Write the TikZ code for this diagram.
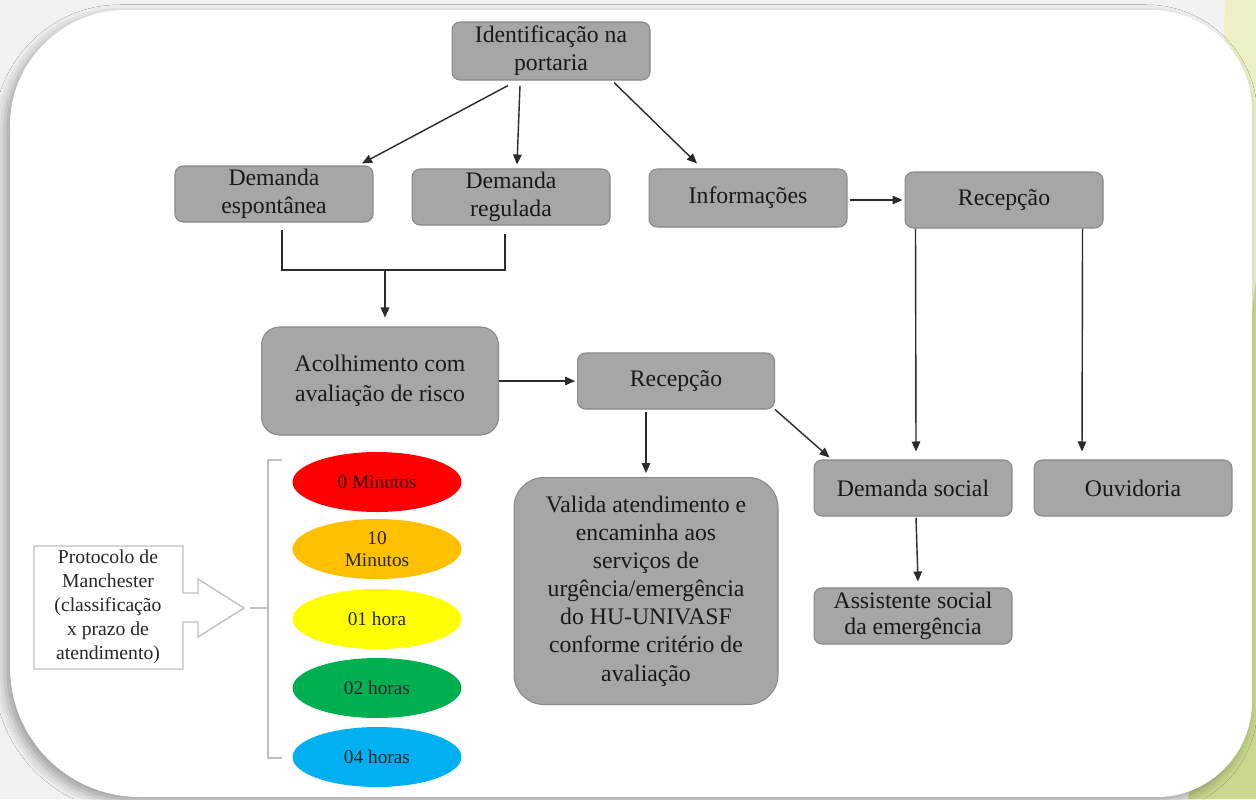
\documentclass[tikz,border=0pt]{standalone}
\usepackage{fontspec}
\setmainfont{Liberation Serif}
\usetikzlibrary{arrows.meta,calc,shadows.blur,shapes.geometric}
\definecolor{bggray}{HTML}{F2F2F2}
\definecolor{paleyel}{HTML}{EDF0C6}
\definecolor{leafgreen}{HTML}{C8D98F}
\definecolor{boxfill}{HTML}{A6A6A6}
\definecolor{boxline}{HTML}{888888}
\definecolor{linecol}{HTML}{2B2B2B}
\definecolor{protoline}{HTML}{C0C0C0}
\definecolor{ered}{HTML}{FF0000}
\definecolor{eorange}{HTML}{FFC000}
\definecolor{eyellow}{HTML}{FFFF00}
\definecolor{egreen}{HTML}{00B050}
\definecolor{eblue}{HTML}{00B0F0}
\begin{document}
\begin{tikzpicture}[x=0.02cm,y=-0.02cm,
  graybox/.style={draw=boxline,line width=0.6pt,fill=boxfill,rounded corners=0.16cm,
    minimum width=3.96cm,minimum height=1.12cm,align=center,inner sep=1pt,
    text=black!90,font=\fontsize{13.5pt}{16pt}\selectfont},
  timeoval/.style={ellipse,draw=none,minimum width=3.38cm,minimum height=1.2cm,
    inner sep=0pt,align=center,text=black!85,font=\fontsize{11pt}{13pt}\selectfont},
  conn/.style={draw=linecol,line width=0.8pt},
  arr/.style={conn,-{Triangle[length=0.2cm,width=0.17cm]}},
  bracketline/.style={draw=protoline,line width=0.8pt}
]
\useasboundingbox (0,0) rectangle (1256,799);
% background
\fill[bggray] (0,0) rectangle (1256,799);
\fill[paleyel] (1225,0) -- (1256,0) -- (1256,799) -- (1200,799) -- cycle;
\fill[leafgreen] (1256,280) -- (1256,799) -- (1188,799) -- cycle;
% card
\path[fill=white,blur shadow={shadow xshift=-3pt,shadow yshift=-3pt,shadow blur radius=6pt,shadow opacity=35}]
  (10,125) .. controls (10,62) and (62,10) .. (125,10)
  -- (1152,10) .. controls (1207,10) and (1252,55) .. (1252,110)
  -- (1252,702) .. controls (1252,754) and (1209,797) .. (1157,797)
  -- (140,797) .. controls (68,797) and (10,739) .. (10,667) -- cycle;

% boxes
\node[graybox,minimum height=1.16cm] (top) at (551,51) {Identificação na\\portaria};
\node[graybox] (de) at (274,194) {Demanda\\espontânea};
\node[graybox] (dr) at (511,197) {Demanda\\regulada};
\node[graybox,minimum height=1.16cm] (inf) at (748,198) {Informações};
\node[graybox] (rec1) at (1004,200) {Recepção};
\node[graybox,minimum width=4.74cm,minimum height=2.16cm,rounded corners=0.36cm,
  font=\fontsize{13.5pt}{17pt}\selectfont] (aco) at (380,381) {Acolhimento com\\avaliação de risco};
\node[graybox,minimum width=3.94cm] (rec2) at (676,381) {Recepção};
\node[graybox,minimum width=5.28cm,minimum height=4.54cm,rounded corners=0.6cm] (val) at (646,591)
  {Valida atendimento e\\encaminha aos\\serviços de\\urgência/emergência\\do HU-UNIVASF\\conforme critério de\\avaliação};
\node[graybox] (ds) at (913,488) {Demanda social};
\node[graybox] (ouv) at (1133,488) {Ouvidoria};
\node[graybox,font=\fontsize{13.5pt}{15pt}\selectfont] (as) at (913,616) {Assistente social\\da emergência};

% connectors
\draw[arr] ($(top.south)+(-43,5)$) -- ($(de.north)+(88,-2)$);
\draw[arr] ($(top.south)+(-31,5)$) -- ($(dr.north)+(6,-4)$);
\draw[arr] ($(top.south)+(63,2)$) -- ($(inf.north)+(-51,-5)$);
\coordinate (join) at (385,270);
\draw[conn] ($(de.south)+(8,7)$) |- (join) -| ($(dr.south)+(-6,8)$);
\draw[arr] (join) -- ($(aco.north)+(5,-9)$);
\draw[arr] ($(inf.east)+(2,2)$) -- ($(rec1.west)+(-2,0)$);
\draw[arr] ($(rec1.south west)+(11,0)$) -- ($(ds.north)+(3,-8)$);
\draw[arr] ($(rec1.south east)+(-21,0)$) -- ($(ouv.north)+(-51,-8)$);
\draw[arr] (aco.east) -- ($(rec2.west)+(-2,0)$);
\draw[arr] ($(rec2.south)+(-30,2)$) -- ($(val.north)+(0,-4)$);
\draw[arr] (rec2.south east) -- ($(ds.north west)+(16,-2)$);
\draw[arr] ($(ds.south)+(3,1)$) -- ($(as.north)+(5,-6)$);

% Manchester protocol block arrow
\draw[protoline,line width=0.8pt] (34,546) -- (183,546) -- (183,593) -- (198,593) -- (198,579)
  -- (244,608) -- (198,637) -- (198,622) -- (183,622) -- (183,669) -- (34,669) -- cycle;
\node[align=center,inner sep=0pt,text=black!85,font=\fontsize{11.2pt}{13.6pt}\selectfont] (proto) at (108,607)
  {Protocolo de\\Manchester\\(classificação\\x prazo de\\atendimento)};

% bracket
\coordinate (brk) at (250,608);
\draw[bracketline] (282,460) -- (268,460) -- (268,758) -- (282,758);
\draw[bracketline] (268,608) -- (brk);

% time ellipses
\node[timeoval,fill=ered,text=black!80!red] (t0) at (377,482) {0 Minutos};
\node[timeoval,fill=eorange,font=\fontsize{11pt}{12.5pt}\selectfont] (t10) at (377,549) {10\\Minutos};
\node[timeoval,fill=eyellow] (t1) at (377,619) {01 hora};
\node[timeoval,fill=egreen] (t2) at (377,688) {02 horas};
\node[timeoval,fill=eblue] (t4) at (377,757) {04 horas};
\end{tikzpicture}
\end{document}
